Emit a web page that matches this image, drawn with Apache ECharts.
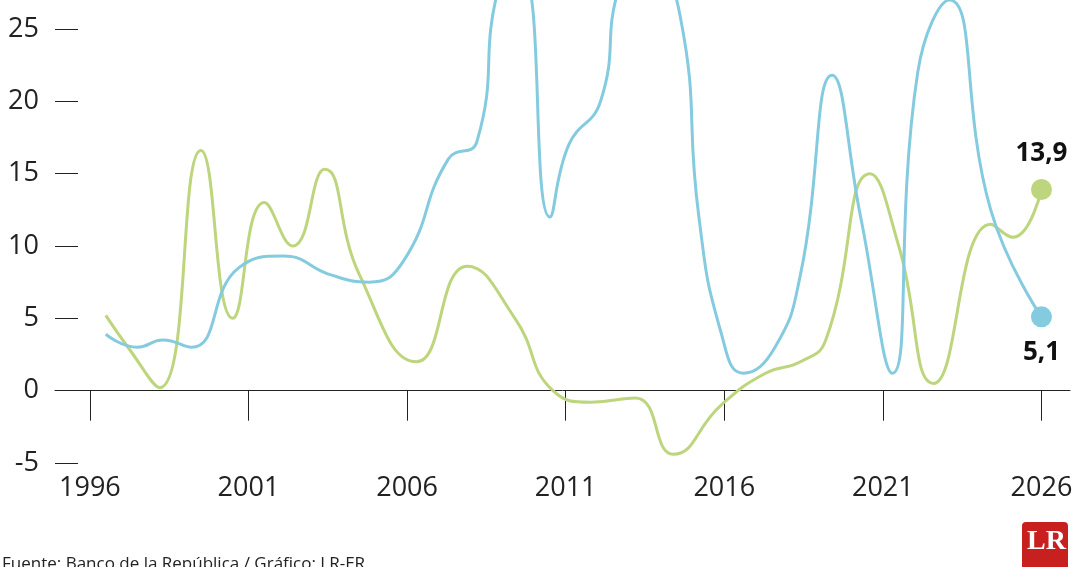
<!DOCTYPE html>
<html><head><meta charset="utf-8">
<script src="https://cdn.jsdelivr.net/npm/echarts@6/dist/echarts.min.js"></script>
<style>body{margin:0}#main{width:1080px;height:567px}</style>
</head><body><div id="main"></div>
<script>
var greenData = [[1996.5,5.2],[1997.2,3],[1998.2,0.2],[1999.5,16.6],[2000.5,5],[2001.5,13],[2002.4,10],[2003.4,15.3],
  [2004.5,8],[2006.3,2],[2007.9,8.6],[2009.4,5],[2010.6,0],[2011.8,-0.8],[2013.2,-0.5],[2014.4,-4.4],[2015.9,-1],
  [2017.3,1.2],[2018.4,2],[2019.2,3.5],[2020.6,15],[2021.5,10],[2022.6,0.5],[2024.4,11.5],[2025.1,10.6],[2026,13.9]];
var blueData = [[1996.5,3.9],[1997.5,3],[1998.3,3.5],[1999.2,3],[2000.7,8.5],[2002.1,9.3],[2003.6,8],[2004.8,7.5],
  [2005.9,9],[2007.3,16],[2008.2,17.2],[2008.9,28],[2009.6,29],[2010.5,12],[2011.1,17],[2012.1,20],[2012.7,28],
  [2013.5,30],[2014.6,26],[2015.2,12],[2015.9,4],[2016.6,1.2],[2017.6,3],[2018.4,8],[2019.4,21.8],[2020.3,12],
  [2021.3,1.2],[2022.1,22],[2023.1,27],[2024.4,12.5],[2026,5.1]];
var yearTicks = [1996,2001,2006,2011,2016,2021,2026];
var green = '#bdd57c', blue = '#84cbdf';
function lastMark(data, color, pos) {
  return data.map(function (d, i) {
    if (i < data.length - 1) return d;
    return {value: d, symbol: 'circle', symbolSize: 21, itemStyle: {color: color},
      label: {show: true, position: pos, distance: 12, formatter: String(d[1]).replace('.', ','),
        fontSize: 26, fontWeight: 'bold', color: '#111', fontFamily: 'Open Sans'}};
  });
}
var chart = echarts.init(document.getElementById('main'));
chart.setOption({
  backgroundColor: '#fff',
  animation: false,
  grid: {left: 55, right: 10, top: 0, bottom: 104},
  xAxis: {type: 'value', min: 1994.9, max: 2026.9,
    axisLine: {onZero: true, lineStyle: {color: '#222', width: 1}},
    axisTick: {show: true, customValues: yearTicks, length: 30, lineStyle: {color: '#222'}},
    axisLabel: {customValues: yearTicks, margin: 12, fontSize: 27, color: '#222', fontFamily: 'Open Sans',
      formatter: function (v) { return String(v); }},
    splitLine: {show: false}},
  yAxis: {type: 'value', min: -5, max: 27, interval: 5,
    axisLine: {show: false},
    axisTick: {show: true, inside: true, length: 23, lineStyle: {color: '#222'}},
    axisLabel: {margin: 16, fontSize: 27, color: '#222', fontFamily: 'Open Sans', showMaxLabel: false},
    splitLine: {show: false}},
  series: [
    {type: 'line', smooth: 0.5, symbol: 'none', data: lastMark(greenData, green, 'top'),
      lineStyle: {color: green, width: 3}, z: 2},
    {type: 'line', smooth: 0.5, symbol: 'none', data: lastMark(blueData, blue, 'bottom'),
      lineStyle: {color: blue, width: 3}, z: 3}
  ],
  graphic: [
    {type: 'text', left: 2, top: 556, style: {text: 'Fuente: Banco de la República / Gráfico: LR-ER', fontSize: 17, fill: '#222', fontFamily: 'Open Sans'}},
    {type: 'rect', left: 1022, top: 522, shape: {width: 46, height: 46, r: [4,4,0,0]}, style: {fill: '#c8201e'}},
    {type: 'text', left: 1027, top: 528, style: {text: 'LR', fontSize: 28, fontWeight: 'bold', fill: '#fff', fontFamily: 'Liberation Serif'}}
  ]
});
</script></body></html>
